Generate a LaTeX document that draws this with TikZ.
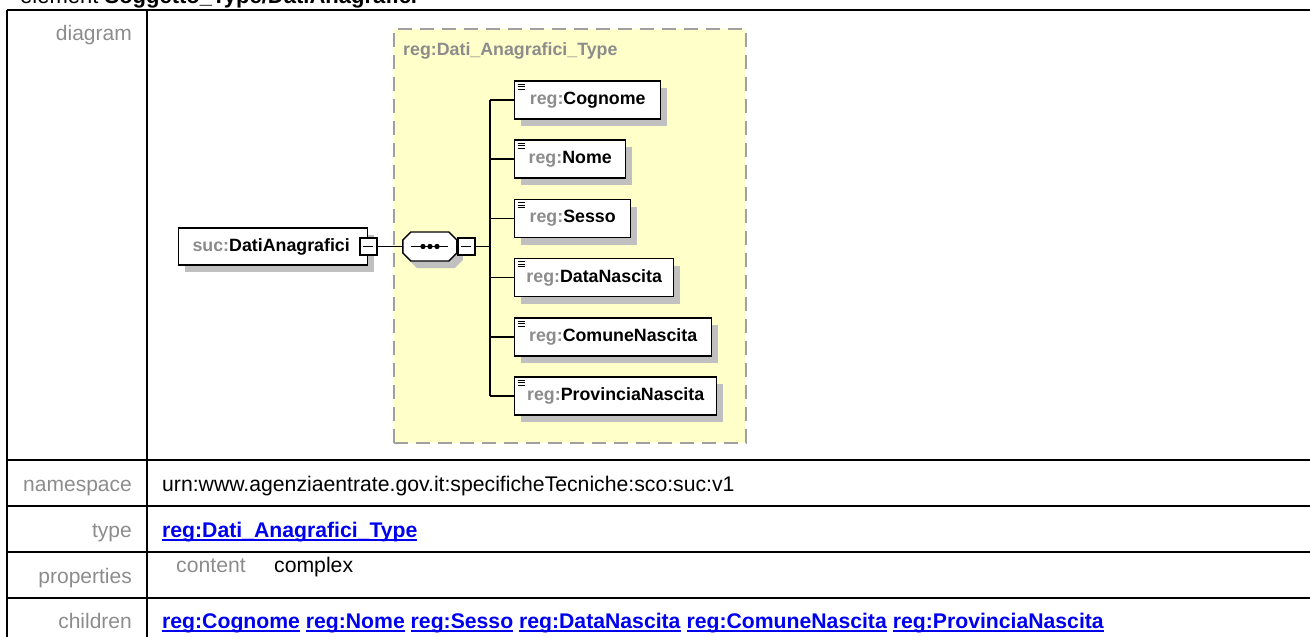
\documentclass[tikz,border=0pt]{standalone}
\usepackage{fontspec}
\setmainfont{Liberation Sans}
\usetikzlibrary{positioning,shadows}
\definecolor{typeyellow}{RGB}{255,255,202}
\definecolor{shadowgray}{RGB}{192,192,192}
\definecolor{prefixgray}{RGB}{140,140,140}
\definecolor{dashgray}{RGB}{160,160,160}
\definecolor{linkblue}{RGB}{0,0,240}
\newcommand{\qname}[2]{\textcolor{prefixgray}{#1:}#2}
\newcommand{\reflink}[1]{\setbox0\hbox{\textbf{#1}}\rlap{\rule[-3.6pt]{\wd0}{1.7pt}}\box0\relax}

\begin{document}
\begin{tikzpicture}[x=1pt, y=-1pt,
    grid/.style={line width=2pt},
    rowname/.style={anchor=base east, inner sep=0pt, text=prefixgray, font=\fontsize{21}{25}\selectfont},
    rowvalue/.style={anchor=base west, inner sep=0pt, font=\fontsize{21.2}{25}\selectfont},
    elem/.style={draw, line width=1.4pt, fill=white, minimum height=38pt, inner xsep=6pt, anchor=west,
      font=\fontsize{17.8}{20}\selectfont\bfseries,
      general shadow={fill=shadowgray, shadow xshift=6pt, shadow yshift=-7pt}},
    leaf/.style={elem, path picture={
      \foreach \k in {3,5.5,8}
        \draw[line width=1pt] ([xshift=3pt,yshift=-\k pt]path picture bounding box.north west) -- ++(7,0);}},
    minusbox/.style={draw, line width=1.4pt, fill=white, minimum size=17pt, inner sep=0pt,
      path picture={\draw[line width=1.4pt] ([xshift=-5pt]path picture bounding box.center) -- ([xshift=5pt]path picture bounding box.center);}},
    wire/.style={line width=1.4pt}]
    \useasboundingbox (0,0) rectangle (1310,637);

    % Heading (cut by the page top)
    \node[anchor=base west, inner sep=0pt, font=\fontsize{22}{26}\selectfont] (heading) at (20,4) {element \textbf{Soggetto\_Type/DatiAnagrafici}};

    % Table
    \draw[grid] (7,10) -- (1310,10);
    \draw[grid] (7,460) -- (1310,460);
    \draw[grid] (7,506) -- (1310,506);
    \draw[grid] (7,552) -- (1310,552);
    \draw[grid] (7,598) -- (1310,598);
    \draw[grid] (7,10) -- (7,645);
    \draw[grid] (147,10) -- (147,645);

    \node[rowname] (rdiagram) at (132,40) {diagram};
    \node[rowname] (rnamespace) at (132,491) {namespace};
    \node[rowname] (rtype) at (132,537) {type};
    \node[rowname] (rproperties) at (132,583) {properties};
    \node[rowname] (rchildren) at (132,628) {children};

    \node[rowvalue] (vnamespace) at (162,491) {urn:www.agenziaentrate.gov.it:specificheTecniche:sco:suc:v1};
    \node[rowvalue, text=linkblue] (vtype) at (162,537) {\reflink{reg:Dati\_Anagrafici\_Type}};
    \node[rowvalue, text=prefixgray] (vcontent) at (176,572) {content};
    \node[rowvalue] (vcomplex) at (274,572) {complex};
    \node[rowvalue, text=linkblue] (vchildren) at (162,628) {\reflink{reg:Cognome} \reflink{reg:Nome} \reflink{reg:Sesso} \reflink{reg:DataNascita} \reflink{reg:ComuneNascita} \reflink{reg:ProvinciaNascita}};

    % Complex type area
    \node[draw=dashgray, line width=1.5pt, dash pattern=on 14pt off 8pt, fill=typeyellow,
      minimum width=352pt, minimum height=414pt, anchor=north west, inner sep=0pt] (typebox) at (393,28) {};
    \node[anchor=west, inner sep=0pt, text=prefixgray, font=\fontsize{17.8}{20}\selectfont\bfseries] (typetitle) at (403,51) {reg:Dati\_Anagrafici\_Type};

    % Element and sequence
    \node[elem, minimum width=189pt, minimum height=37pt] (suc) at (178,246.5) {\qname{suc}{DatiAnagrafici}\hspace*{4pt}};
    \node[minusbox] (sucminus) at (suc.east) {};
    \node[minimum width=54pt, minimum height=29pt, inner sep=0pt] (seq) at (430,246.5) {};
    \fill[shadowgray] ([shift={(6,7)}]seq.west) -- ++(0,-6.5) -- ++(8,-8) -- ++(38,0) -- ++(8,8) -- ++(0,13) -- ++(-8,8) -- ++(-38,0) -- ++(-8,-8) -- cycle;
    \draw[line width=1.4pt, fill=white] (seq.west) -- ++(0,-6.5) -- ++(8,-8) -- ++(38,0) -- ++(8,8) -- ++(0,13) -- ++(-8,8) -- ++(-38,0) -- ++(-8,-8) -- cycle;
    \node[minusbox, anchor=west] (seqminus) at (seq.east) {};
    \draw[line width=1.4pt] ([xshift=-19pt]seq.center) -- ([xshift=18pt]seq.center);
    \fill ([xshift=-7pt]seq.center) circle[radius=2.7pt];
    \fill (seq.center) circle[radius=2.7pt];
    \fill ([xshift=7pt]seq.center) circle[radius=2.7pt];

    % Children
    \node[leaf, minimum width=146pt] (cognome) at (514,100) {\qname{reg}{Cognome}};
    \node[leaf, minimum width=111pt] (nome) at (514,159) {\qname{reg}{Nome}};
    \node[leaf, minimum width=116pt] (sesso) at (514,218.5) {\qname{reg}{Sesso}};
    \node[leaf, minimum width=159pt] (datanascita) at (514,277.5) {\qname{reg}{DataNascita}};
    \node[leaf, minimum width=197pt] (comunenascita) at (514,337) {\qname{reg}{ComuneNascita}};
    \node[leaf, minimum width=202pt] (provincianascita) at (514,396) {\qname{reg}{ProvinciaNascita}};

    % Wires
    \coordinate (trunk) at (490,246.5);
    \draw[wire] (sucminus.east) -- (seq.west);
    \draw[wire] (seqminus.east) -- (trunk);
    \draw[wire] (trunk |- cognome.west) -- (trunk |- provincianascita.west);
    \draw[wire] (trunk |- cognome.west) -- (cognome.west);
    \draw[wire] (trunk |- nome.west) -- (nome.west);
    \draw[wire] (trunk |- sesso.west) -- (sesso.west);
    \draw[wire] (trunk |- datanascita.west) -- (datanascita.west);
    \draw[wire] (trunk |- comunenascita.west) -- (comunenascita.west);
    \draw[wire] (trunk |- provincianascita.west) -- (provincianascita.west);
\end{tikzpicture}
\end{document}
